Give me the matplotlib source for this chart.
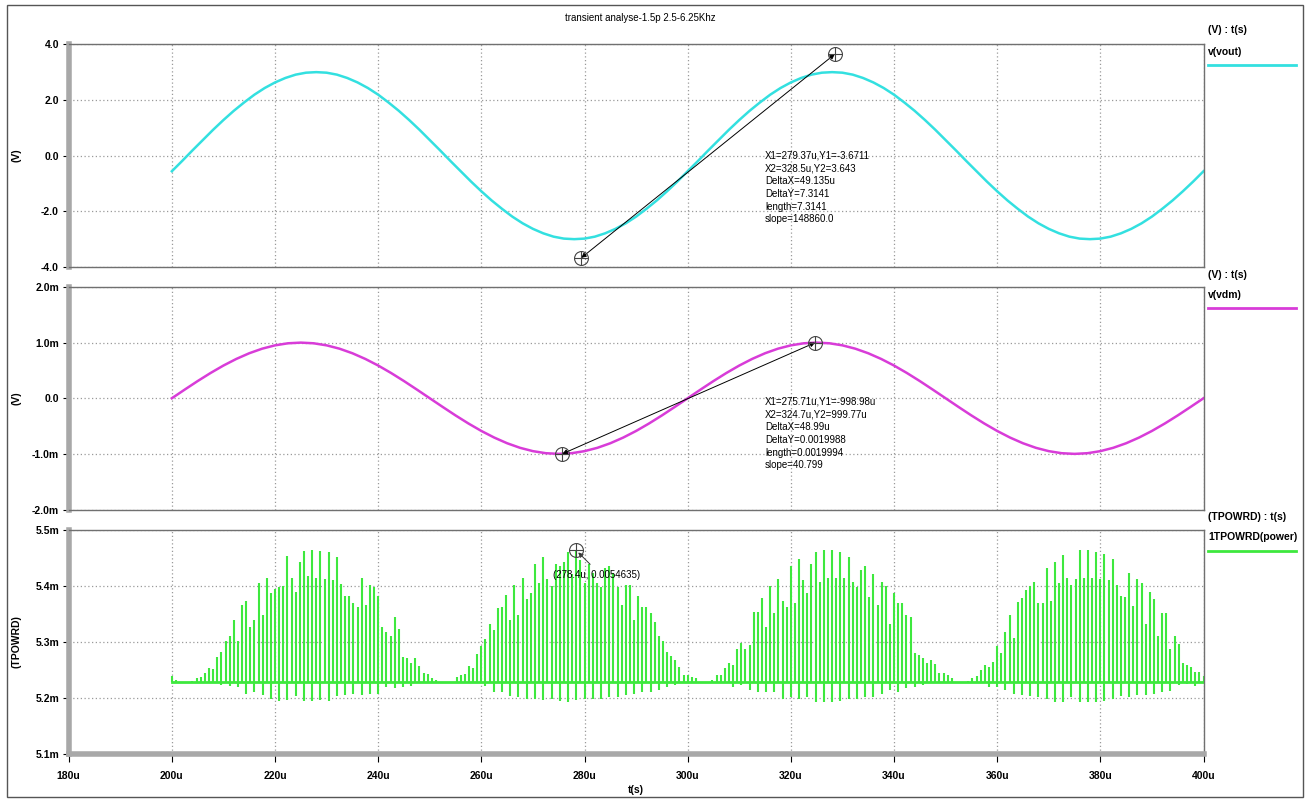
import numpy as np
import matplotlib
matplotlib.use("Agg")
from matplotlib import pyplot as plt
from matplotlib.patches import Rectangle

W, H = 1310, 802

plt.rcParams["font.family"] = ["Liberation Sans", "DejaVu Sans"]

title = "transient analyse-1.5p 2.5-6.25Khz"

# time axis (microseconds)
x_ticks = [180, 200, 220, 240, 260, 280, 300, 320, 340, 360, 380, 400]
x_labels = [f"{v}u" for v in x_ticks]

# v(vout), sampled every 2u from 200u
vout_start, vout_step = 200.0, 2.0
vout = [
    -0.56, -0.19, 0.19, 0.56, 0.93, 1.28, 1.61, 1.91, 2.19, 2.43,
    2.63, 2.79, 2.91, 2.98, 3.00, 2.98, 2.91, 2.79, 2.63, 2.43,
    2.19, 1.91, 1.61, 1.28, 0.93, 0.56, 0.19, -0.19, -0.56, -0.93,
    -1.28, -1.61, -1.91, -2.19, -2.43, -2.63, -2.79, -2.91, -2.98, -3.00,
    -2.98, -2.91, -2.79, -2.63, -2.43, -2.19, -1.91, -1.61, -1.28, -0.93,
    -0.56, -0.19, 0.19, 0.56, 0.93, 1.28, 1.61, 1.91, 2.19, 2.43,
    2.63, 2.79, 2.91, 2.98, 3.00, 2.98, 2.91, 2.79, 2.63, 2.43,
    2.19, 1.91, 1.61, 1.28, 0.93, 0.56, 0.19, -0.19, -0.56, -0.93,
    -1.28, -1.61, -1.91, -2.19, -2.43, -2.63, -2.79, -2.91, -2.98, -3.00,
    -2.98, -2.91, -2.79, -2.63, -2.43, -2.19, -1.91, -1.61, -1.28, -0.93,
    -0.56,
]
vout_ticks = [-4, -2, 0, 2, 4]
vout_labels = ["-4.0", "-2.0", "0.0", "2.0", "4.0"]
vout_cursor_t = [279.37, 328.5]
vout_cursor_v = [-3.6711, 3.643]
vout_readout = ["X1=279.37u,Y1=-3.6711", "X2=328.5u,Y2=3.643", "DeltaX=49.135u",
                "DeltaY=7.3141", "length=7.3141", "slope=148860.0"]

# v(vdm) in mV, sampled every 2.5u from 200u
vdm_start, vdm_step = 200.0, 2.5
vdm = [
    0.000, 0.156, 0.309, 0.454, 0.588, 0.707, 0.809, 0.891, 0.951, 0.988,
    1.000, 0.988, 0.951, 0.891, 0.809, 0.707, 0.588, 0.454, 0.309, 0.156,
    0.000, -0.156, -0.309, -0.454, -0.588, -0.707, -0.809, -0.891, -0.951, -0.988,
    -1.000, -0.988, -0.951, -0.891, -0.809, -0.707, -0.588, -0.454, -0.309, -0.156,
    0.000, 0.156, 0.309, 0.454, 0.588, 0.707, 0.809, 0.891, 0.951, 0.988,
    1.000, 0.988, 0.951, 0.891, 0.809, 0.707, 0.588, 0.454, 0.309, 0.156,
    0.000, -0.156, -0.309, -0.454, -0.588, -0.707, -0.809, -0.891, -0.951, -0.988,
    -1.000, -0.988, -0.951, -0.891, -0.809, -0.707, -0.588, -0.454, -0.309, -0.156,
    0.000,
]
vdm_ticks = [-2, -1, 0, 1, 2]
vdm_labels = ["-2.0m", "-1.0m", "0.0", "1.0m", "2.0m"]
vdm_cursor_t = [275.71, 324.7]
vdm_cursor_v = [-0.99898, 0.99977]
vdm_readout = ["X1=275.71u,Y1=-998.98u", "X2=324.7u,Y2=999.77u", "DeltaX=48.99u",
               "DeltaY=0.0019988", "length=0.0019994", "slope=40.799"]

# 1TPOWRD(power) in mW: one switching spike every 0.8u from 200u
power_base = 5.229
spike_start, spike_step = 200.0, 0.8
spike_high = [
    5.240, 5.233, 5.229, 5.229, 5.229, 5.231, 5.235, 5.238, 5.244, 5.254,
    5.251, 5.274, 5.283, 5.301, 5.311, 5.340, 5.301, 5.366, 5.373, 5.327,
    5.339, 5.405, 5.348, 5.415, 5.387, 5.394, 5.398, 5.400, 5.454, 5.414,
    5.390, 5.442, 5.463, 5.417, 5.464, 5.414, 5.463, 5.412, 5.460, 5.411,
    5.452, 5.404, 5.382, 5.382, 5.370, 5.363, 5.415, 5.366, 5.401, 5.398,
    5.382, 5.326, 5.317, 5.310, 5.344, 5.324, 5.274, 5.271, 5.263, 5.271,
    5.257, 5.244, 5.242, 5.236, 5.232, 5.229, 5.229, 5.229, 5.229, 5.238,
    5.241, 5.242, 5.257, 5.253, 5.279, 5.293, 5.305, 5.332, 5.321, 5.360,
    5.363, 5.384, 5.339, 5.402, 5.348, 5.415, 5.376, 5.387, 5.439, 5.406,
    5.452, 5.412, 5.400, 5.439, 5.435, 5.442, 5.461, 5.421, 5.4635, 5.446,
    5.405, 5.439, 5.423, 5.406, 5.399, 5.433, 5.435, 5.423, 5.399, 5.366,
    5.402, 5.402, 5.339, 5.382, 5.363, 5.363, 5.351, 5.335, 5.310, 5.301,
    5.283, 5.275, 5.267, 5.255, 5.241, 5.241, 5.237, 5.235, 5.229, 5.229,
    5.229, 5.233, 5.241, 5.241, 5.254, 5.263, 5.259, 5.287, 5.299, 5.287,
    5.295, 5.354, 5.354, 5.378, 5.327, 5.400, 5.352, 5.412, 5.374, 5.362,
    5.436, 5.370, 5.448, 5.411, 5.387, 5.440, 5.461, 5.408, 5.464, 5.415,
    5.464, 5.414, 5.460, 5.415, 5.452, 5.408, 5.399, 5.429, 5.436, 5.380,
    5.421, 5.366, 5.408, 5.400, 5.333, 5.387, 5.370, 5.369, 5.348, 5.344,
    5.280, 5.277, 5.271, 5.262, 5.267, 5.261, 5.245, 5.245, 5.241, 5.235,
    5.229, 5.229, 5.229, 5.231, 5.235, 5.239, 5.250, 5.259, 5.256, 5.265,
    5.293, 5.281, 5.318, 5.348, 5.308, 5.372, 5.378, 5.393, 5.400, 5.408,
    5.370, 5.370, 5.432, 5.374, 5.443, 5.406, 5.455, 5.415, 5.402, 5.412,
    5.464, 5.415, 5.464, 5.414, 5.461, 5.412, 5.457, 5.410, 5.448, 5.402,
    5.382, 5.380, 5.424, 5.364, 5.412, 5.405, 5.333, 5.390, 5.376, 5.311,
    5.351, 5.351, 5.287, 5.310, 5.296, 5.263, 5.259, 5.255, 5.247, 5.247,
    5.240,
]
# negative undershoots: spike index and lowest value
dip_index = [
    10, 12, 14, 16, 18, 20, 22, 24, 26, 28, 30, 32, 34, 36, 38, 40, 42, 44, 46, 48,
    50, 52, 54, 56, 58, 60,
    76, 78, 80, 82, 84, 86, 88, 90, 92, 94, 96, 98, 100, 102, 104, 106, 108, 110,
    112, 114, 116, 118, 120, 122,
    136, 138, 140, 142, 144, 146, 148, 150, 152, 154, 156, 158, 160, 162, 164, 166,
    168, 170, 172, 174, 176, 178, 180, 182,
    198, 200, 202, 204, 206, 208, 210, 212, 214, 216, 218, 220, 222, 224, 226, 228,
    230, 232, 234, 236, 238, 240, 242, 244, 246, 248,
]
dip_low = [
    5.226, 5.223, 5.221, 5.219, 5.208, 5.210, 5.205, 5.198, 5.195, 5.196, 5.204, 5.195,
    5.195, 5.196, 5.195, 5.204, 5.205, 5.207, 5.205, 5.207, 5.208, 5.219, 5.217, 5.220,
    5.221, 5.226,
    5.221, 5.211, 5.210, 5.204, 5.201, 5.198, 5.198, 5.196, 5.198, 5.195, 5.192, 5.196,
    5.198, 5.198, 5.199, 5.202, 5.202, 5.205, 5.207, 5.211, 5.211, 5.214, 5.220, 5.223,
    5.220, 5.223, 5.215, 5.211, 5.211, 5.211, 5.199, 5.202, 5.198, 5.201, 5.193, 5.193,
    5.193, 5.195, 5.198, 5.199, 5.201, 5.202, 5.207, 5.214, 5.210, 5.217, 5.220, 5.224,
    5.220, 5.220, 5.215, 5.207, 5.205, 5.204, 5.201, 5.198, 5.193, 5.193, 5.201, 5.192,
    5.192, 5.193, 5.195, 5.199, 5.204, 5.201, 5.205, 5.205, 5.208, 5.211, 5.213, 5.223,
    5.225, 5.221,
]
power_ticks = [5.1, 5.2, 5.3, 5.4, 5.5]
power_labels = ["5.1m", "5.2m", "5.3m", "5.4m", "5.5m"]
power_cursor = (278.4, 5.4635)

CYAN = "#33e0e0"
MAGENTA = "#d83cd8"
GREEN = "#3ee83e"

PLOT_LEFT, PLOT_RIGHT = 68.7, 1203.5


def fig_xy(x, y):
    return x / W, 1 - y / H


def add_panel(fig, top, bottom):
    return fig.add_axes([PLOT_LEFT / W, 1 - bottom / H,
                         (PLOT_RIGHT - PLOT_LEFT) / W, (bottom - top) / H])


def style_panel(ax, yticks, ylabels, ylabel, show_x=False):
    ax.set_xlim(x_ticks[0], x_ticks[-1])
    ax.set_ylim(yticks[0], yticks[-1])
    ax.set_xticks(x_ticks)
    ax.set_yticks(yticks)
    ax.set_yticklabels(ylabels, fontweight="bold")
    ax.grid(True, color="#9a9a9a", linestyle=(0, (1, 2)), linewidth=0.9)
    for side in ("top", "right", "bottom"):
        ax.spines[side].set_color("#707070")
        ax.spines[side].set_linewidth(1.0)
    ax.spines["left"].set_color("#a8a8a8")
    ax.spines["left"].set_linewidth(4)
    ax.tick_params(axis="y", direction="out", length=4, width=0.8, pad=3, labelsize=7.5)
    if show_x:
        ax.spines["bottom"].set_color("#a8a8a8")
        ax.spines["bottom"].set_linewidth(4)
        ax.set_xticklabels(x_labels, fontweight="bold")
        ax.tick_params(axis="x", direction="out", length=6, width=0.8, pad=6, labelsize=7.5)
    else:
        ax.tick_params(axis="x", bottom=False, labelbottom=False)
    ax.set_ylabel(ylabel, fontsize=7.5, fontweight="bold")
    # keep every y label on the same column
    ax.yaxis.set_label_coords((22 - PLOT_LEFT) / (PLOT_RIGHT - PLOT_LEFT), 0.5)


def draw_cursors(ax, ts, vs):
    ax.annotate("", xy=(ts[1], vs[1]), xytext=(ts[0], vs[0]),
                arrowprops=dict(arrowstyle="<|-|>", color="black", lw=0.7,
                                mutation_scale=7, shrinkA=0, shrinkB=0))
    ax.plot(ts, vs, ls="none", marker="o", ms=10, mfc="none", mec="#444444", mew=0.8, zorder=5)
    ax.plot(ts, vs, ls="none", marker="+", ms=10, mec="#444444", mew=0.8, zorder=5)


def legend_entry(fig, y_axis, y_name, y_line, axis_text, name, color):
    fig.text(*fig_xy(1208, y_axis), axis_text, fontsize=7.5, fontweight="bold", va="center")
    fig.text(*fig_xy(1208, y_name), name, fontsize=7.5, fontweight="bold", va="center")
    x0, y0 = fig_xy(1208, y_line)
    x1, _ = fig_xy(1296, y_line)
    fig.add_artist(plt.Line2D([x0, x1], [y0, y0], color=color, lw=2))


def main():
    fig = plt.figure(figsize=(W / 100, H / 100), dpi=100)
    fig.patch.set_facecolor("white")
    fig.add_artist(Rectangle(fig_xy(7, 797), 1296 / W, 792 / H, fill=False,
                             edgecolor="#555555", lw=1, transform=fig.transFigure))
    fig.text(*fig_xy(640, 18), title, fontsize=7, ha="center", va="center")

    # v(vout)
    ax1 = add_panel(fig, 44.3, 267)
    t_vout = vout_start + vout_step * np.arange(len(vout))
    ax1.plot(t_vout, vout, color=CYAN, lw=1.8)
    style_panel(ax1, vout_ticks, vout_labels, "(V)")
    draw_cursors(ax1, vout_cursor_t, vout_cursor_v)
    fig.text(*fig_xy(765, 151), "\n".join(vout_readout), fontsize=7, va="top",
             linespacing=1.33)
    legend_entry(fig, 30, 52, 65, "(V) : t(s)", "v(vout)", CYAN)

    # v(vdm)
    ax2 = add_panel(fig, 287, 509.5)
    t_vdm = vdm_start + vdm_step * np.arange(len(vdm))
    ax2.plot(t_vdm, vdm, color=MAGENTA, lw=1.8)
    style_panel(ax2, vdm_ticks, vdm_labels, "(V)")
    draw_cursors(ax2, vdm_cursor_t, vdm_cursor_v)
    fig.text(*fig_xy(765, 397), "\n".join(vdm_readout), fontsize=7, va="top",
             linespacing=1.33)
    legend_entry(fig, 275, 295, 308, "(V) : t(s)", "v(vdm)", MAGENTA)

    # 1TPOWRD(power)
    ax3 = add_panel(fig, 530, 754)
    t_spk = spike_start + spike_step * np.arange(len(spike_high))
    ax3.vlines(t_spk, power_base, spike_high, color=GREEN, lw=1.5)
    ax3.vlines(t_spk[dip_index], dip_low, power_base, color=GREEN, lw=1.5)
    ax3.plot([t_spk[0], t_spk[-1]], [power_base, power_base], color=GREEN, lw=2)
    style_panel(ax3, power_ticks, power_labels, "(TPOWRD)", show_x=True)
    ax3.plot(*power_cursor, ls="none", marker="o", ms=10, mfc="none", mec="#444444",
             mew=0.8, zorder=5)
    ax3.plot(*power_cursor, ls="none", marker="+", ms=10, mec="#444444", mew=0.8, zorder=5)
    ax3.annotate("", xy=power_cursor, xytext=(10, -10), textcoords="offset points",
                 arrowprops=dict(arrowstyle="-|>", color="#333333", lw=0.7,
                                 mutation_scale=7, shrinkA=0, shrinkB=2))
    ax3.annotate(f"({power_cursor[0]}u, {power_cursor[1] / 1000:.7f})", xy=power_cursor,
                 xytext=(-17, -18), textcoords="offset points", fontsize=7,
                 va="center", ha="left")
    legend_entry(fig, 517, 537, 551, "(TPOWRD) : t(s)", "1TPOWRD(power)", GREEN)

    fig.text(*fig_xy(636, 790), "t(s)", fontsize=7.5, fontweight="bold",
             ha="center", va="center")

    fig.savefig("out.png", dpi=100)


if __name__ == "__main__":
    main()
